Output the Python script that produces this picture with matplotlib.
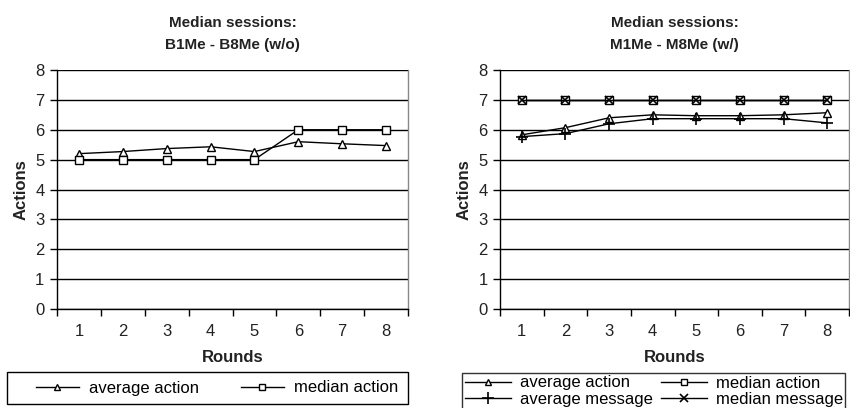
import matplotlib
matplotlib.use("Agg")
import matplotlib.pyplot as plt

rounds = [1, 2, 3, 4, 5, 6, 7, 8]
left_avg_action = [5.2, 5.27, 5.37, 5.43, 5.27, 5.6, 5.53, 5.47]
left_med_action = [5, 5, 5, 5, 5, 6, 6, 6]
right_avg_action = [5.83, 6.07, 6.4, 6.5, 6.47, 6.47, 6.5, 6.57]
right_med_action = [7, 7, 7, 7, 7, 7, 7, 7]
right_avg_message = [5.77, 5.87, 6.2, 6.37, 6.37, 6.37, 6.37, 6.23]
right_med_message = [7, 7, 7, 7, 7, 7, 7, 7]
yticks = [0, 1, 2, 3, 4, 5, 6, 7, 8]

plt.rcParams['font.family'] = ['Liberation Sans', 'DejaVu Sans']

fig = plt.figure(figsize=(8.5, 4.08), dpi=100)
W, H = 850, 408

def mk_ax(x0, x1, y_top, y_bot):
    return fig.add_axes([x0 / W, 1 - y_bot / H, (x1 - x0) / W, (y_bot - y_top) / H])

def style(ax, title):
    ax.set_xlim(0.5, 8.5)
    ax.set_ylim(0, 8)
    ax.set_yticks(yticks)
    ax.set_xticks(rounds)
    ax.set_xticks([r + 0.5 for r in [0] + rounds], minor=True)
    ax.tick_params(axis='x', which='major', length=0, pad=11, labelsize=12, colors='#222222')
    ax.tick_params(axis='x', which='minor', length=5, width=1, direction='out')
    ax.tick_params(axis='y', length=5, width=1, direction='out', labelsize=12, pad=4, labelcolor='#222222')
    ax.yaxis.grid(True, color='black', linewidth=1)
    ax.set_axisbelow(True)
    for s in ax.spines.values():
        s.set_linewidth(1)
    ax.spines['top'].set_visible(False)
    ax.spines['right'].set_color('#888888')
    ax.set_xlabel('Rounds', fontweight='bold', fontsize=12, labelpad=8, color='#222222')
    ax.set_ylabel('Actions', fontweight='bold', fontsize=12, labelpad=5, color='#222222')
    ax.set_title(title, fontweight='bold', fontsize=11, linespacing=1.75, pad=15, color='#222222')

ms = 5.5
ax1 = mk_ax(57, 408, 70, 309)
ax1.plot(rounds, left_avg_action, color='black', lw=1, marker='^', ms=ms, mfc='white', mec='black', label='average action')
ax1.plot(rounds, left_med_action, color='black', lw=1, marker='s', ms=ms, mfc='white', mec='black', label='median action')
style(ax1, 'Median sessions:\nB1Me - B8Me (w/o)')
leg1 = ax1.legend(loc='center', bbox_to_anchor=(217 / W, 1 - 388 / H),
                  bbox_transform=fig.transFigure, ncol=2, frameon=False,
                  fontsize=12, handlelength=2.6, borderaxespad=0, markerscale=0.9,
                  columnspacing=2.5, handletextpad=0.6)
fig.patches.append(plt.Rectangle((7 / W, 1 - 404 / H), 401 / W, 32 / H, transform=fig.transFigure,
                                 fill=False, edgecolor='black', linewidth=1))

ax2 = mk_ax(500, 849, 70, 309)
h1, = ax2.plot(rounds, right_avg_action, color='black', lw=1, marker='^', ms=ms, mfc='white', mec='black', label='average action')
h2, = ax2.plot(rounds, right_med_action, color='black', lw=1, marker='s', ms=ms, mfc='white', mec='black', label='median action')
h3, = ax2.plot(rounds, right_avg_message, color='black', lw=1, marker='+', ms=9, mec='black', mew=1.2, label='average message')
h4, = ax2.plot(rounds, right_med_message, color='black', lw=1, marker='x', ms=6, mec='black', mew=1.2, label='median message')
style(ax2, 'Median sessions:\nM1Me - M8Me (w/)')
leg2 = ax2.legend(handles=[h1, h3, h2, h4], loc='upper left', bbox_to_anchor=(462 / W, 1 - 373 / H),
                  bbox_transform=fig.transFigure, ncol=2, frameon=True,
                  fontsize=12, handlelength=2.8, borderaxespad=0, fancybox=False, edgecolor='black',
                  labelspacing=0.1, borderpad=0.15, columnspacing=0.5, handletextpad=0.5, markerscale=0.9)
leg2.get_frame().set_linewidth(1)

fig.savefig('out.png', dpi=100)
